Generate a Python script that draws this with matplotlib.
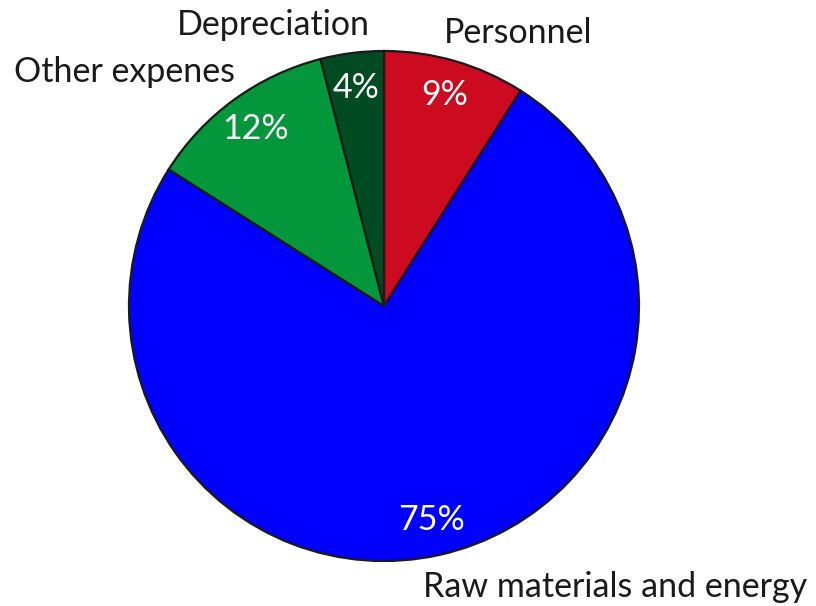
import matplotlib
matplotlib.use("Agg")
import matplotlib.pyplot as plt

categories = ["Personnel", "Raw materials and energy", "Other expenes", "Depreciation"]
values = [9, 75, 12, 4]
colors = ["#CC0A20", "#0000FF", "#03963A", "#004B22"]

# label anchor positions in pixels (layout only)
label_pos = {
    "Personnel": (518, 33),
    "Raw materials and energy": (615, 587),
    "Other expenes": (125, 72),
    "Depreciation": (273, 25),
}

W, H = 816, 606
fig = plt.figure(figsize=(W / 100, H / 100), dpi=100)
ax = fig.add_axes([0, 0, 1, 1])

font = "Lato"
fs = 24.5

cx, cy, r = 384, H - 306, 255
wedges, texts, autotexts = ax.pie(
    values, colors=colors, startangle=90, counterclock=False,
    center=(cx, cy), radius=r, autopct="%d%%", pctdistance=0.86,
    wedgeprops=dict(edgecolor="#1a1a1a", linewidth=1.6),
    textprops=dict(color="white", fontsize=fs, family=font),
    frame=True,
)
ax.set_xlim(0, W)
ax.set_ylim(0, H)
ax.set_aspect("equal")
ax.axis("off")

for cat in categories:
    x, y = label_pos[cat]
    ax.text(x, H - y, cat, ha="center", va="center", fontsize=fs,
            family=font, color="#1a1a1a")

fig.savefig("out.png", dpi=100)
